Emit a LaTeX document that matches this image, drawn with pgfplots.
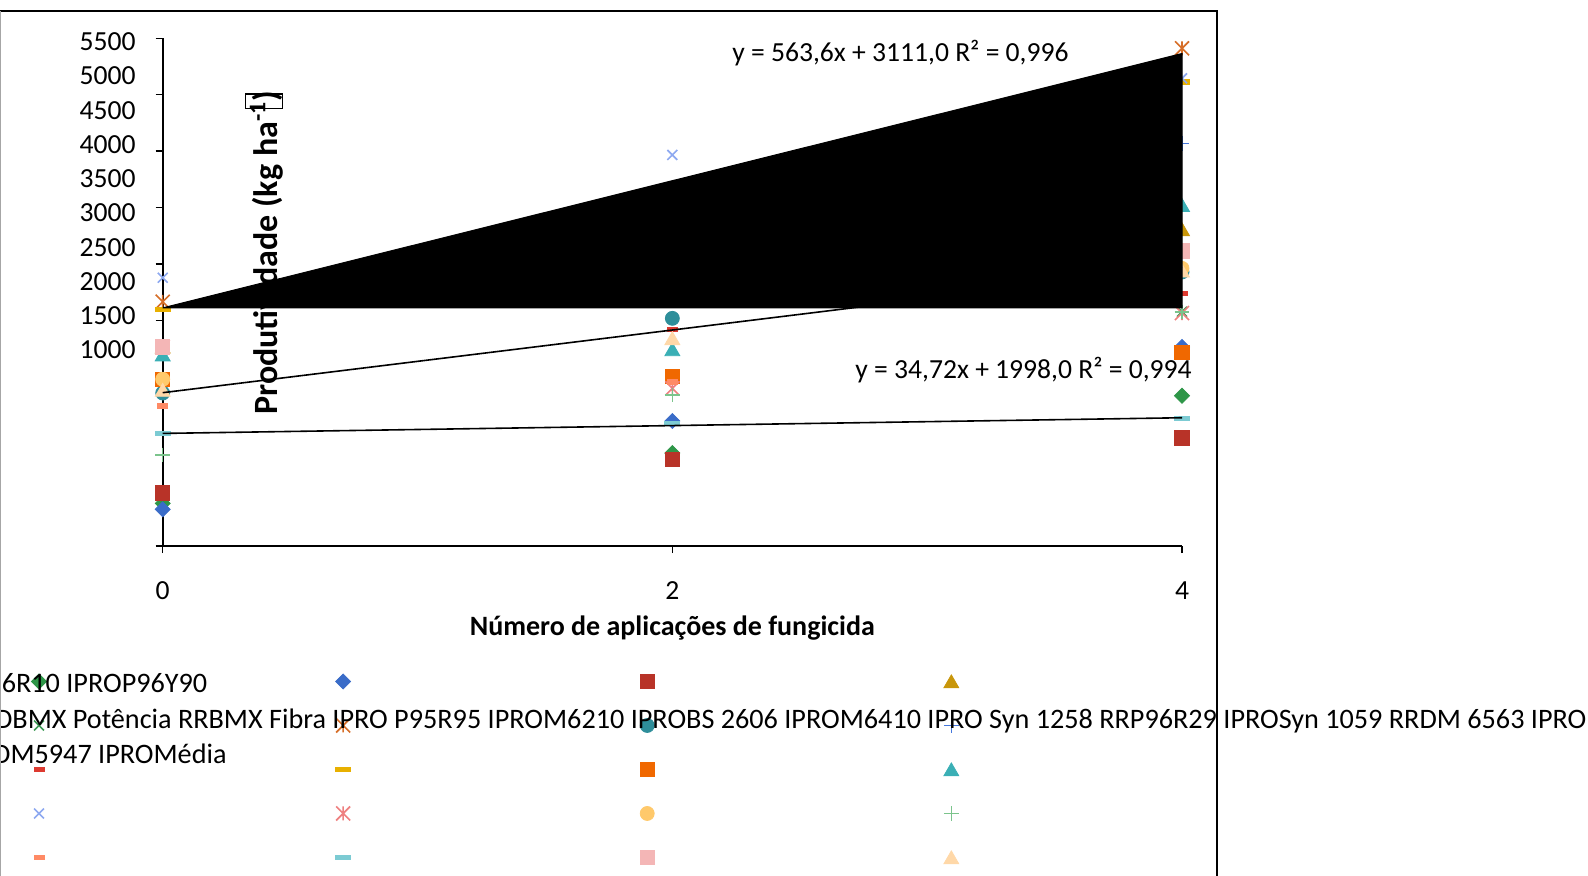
\documentclass[border=0pt]{standalone}
\usepackage{fontspec}
\setmainfont{Carlito}
\usepackage{pgfplots}
\usepackage{pgfplotstable}
\pgfplotsset{compat=1.18}

% series colours
\definecolor{c1}{RGB}{46,150,72}
\definecolor{c2}{RGB}{58,108,200}
\definecolor{c3}{RGB}{184,51,40}
\definecolor{c4}{RGB}{200,150,10}
\definecolor{c5}{RGB}{62,154,86}
\definecolor{c6}{RGB}{214,110,40}
\definecolor{c7}{RGB}{46,142,154}
\definecolor{c8}{RGB}{68,119,221}
\definecolor{c9}{RGB}{221,58,48}
\definecolor{c10}{RGB}{232,176,0}
\definecolor{c11}{RGB}{240,104,0}
\definecolor{c12}{RGB}{58,175,181}
\definecolor{c13}{RGB}{142,169,240}
\definecolor{c14}{RGB}{238,128,128}
\definecolor{c15}{RGB}{255,201,107}
\definecolor{c16}{RGB}{123,196,140}
\definecolor{c17}{RGB}{255,138,101}
\definecolor{c18}{RGB}{124,203,211}
\definecolor{c19}{RGB}{244,182,182}
\definecolor{c20}{RGB}{255,216,168}

% cross with a vertical bar (star marker)
\pgfdeclareplotmark{xstar}{%
  \pgfpathmoveto{\pgfqpoint{-\pgfplotmarksize}{-\pgfplotmarksize}}%
  \pgfpathlineto{\pgfqpoint{\pgfplotmarksize}{\pgfplotmarksize}}%
  \pgfpathmoveto{\pgfqpoint{-\pgfplotmarksize}{\pgfplotmarksize}}%
  \pgfpathlineto{\pgfqpoint{\pgfplotmarksize}{-\pgfplotmarksize}}%
  \pgfpathmoveto{\pgfqpoint{0pt}{-\pgfplotmarksize}}%
  \pgfpathlineto{\pgfqpoint{0pt}{\pgfplotmarksize}}%
  \pgfusepathqstroke
}

\pgfplotsset{
  mdiamond/.style={mark=square*, mark size=2.65pt, mark options={rotate=45}},
  msquare/.style={mark=square*, mark size=3.6pt},
  mtri/.style={mark=triangle*, mark size=4.3pt, mark options={yshift=-1pt}},
  mx/.style={mark=x, mark size=3.5pt, mark options={line width=0.8pt}},
  mstar/.style={mark=xstar, mark size=3.5pt, mark options={line width=0.8pt}},
  mcirc/.style={mark=*, mark size=3.5pt},
  mplus/.style={mark=+, mark size=3.7pt, mark options={line width=0.8pt}},
  mrect/.style={mark=square*, mark size=2.5pt, mark options={yscale=0.47}},
  mdash/.style={mark=square*, mark size=3.75pt, mark options={yscale=0.31}},
}

% yield (kg/ha) by number of fungicide applications
\pgfplotstableread{
x s1 s2 s3 s4 s5 s6 s7 s8 s9 s10 s11 s12 s13 s14 s15 s16 s17 s18 s19 s20
0 1378 1325 1472 2766 2478 3165 2356 2766 2478 3098 2478 2697 3378 2766 2478 1807 2241 1999 2766 2383
2 1824 2108 1768 3624 3713 4100 3018 3800 2921 4000 2501 2743 4466 2398 3500 2338 2456 2088 3400 2841
4 2332 2764 1960 3807 3077 5411 3429 4569 3240 5115 2717 4022 5145 3065 3461 3074 3617 2132 3617 3440
}\prod

\newcommand{\series}[3]{%
  \addplot[only marks, color=#2, #3] table[x=x, y=#1]{\prod};
  \addlegendentry{\relax}}

\begin{document}
\begin{tikzpicture}
\begin{axis}[
  at={(0pt,0pt)}, anchor=south west,
  scale only axis, width=509.65pt, height=253.85pt,
  xmin=0, xmax=4, ymin=1000, ymax=5500,
  axis x line*=bottom, axis y line*=left,
  axis line style={black, line width=0.9pt},
  xtick={0,2,4},
  ytick={1000,1500,...,5500},
  yticklabels={{},{},{},{},{},{},{},{},{},{}},
  extra y ticks={5470,5166.5,4863,4559.5,4256,3952.5,3649,3345.5,3042,2738.5},
  extra y tick labels={5500,5000,4500,4000,3500,3000,2500,2000,1500,1000},
  extra y tick style={major tick length=0pt,
    yticklabel style={anchor=east, inner sep=0pt, xshift=-13.35pt}},
  tick align=outside, major tick length=3.5pt,
  tick style={black, line width=0.7pt},
  tick label style={font=\fontsize{13.8}{16}\selectfont},
  /pgf/number format/assume math mode=true,
  xticklabel style={anchor=base, inner sep=0pt, yshift=-23.25pt},
  xlabel={Número de aplicações de fungicida},
  xlabel style={at={(axis description cs:0.5,-0.1763)}, anchor=base,
    inner sep=0pt, font=\bfseries\fontsize{14}{17}\selectfont},
  ylabel={Produtividade (kg ha\textsuperscript{-1})},
  ylabel style={at={(axis description cs:0.1131,0.258)}, anchor=base west,
    inner sep=0pt, font=\bfseries\fontsize{17}{20}\selectfont},
  clip=false,
  clip marker paths=true,
  legend columns=4,
  legend style={at={(axis description cs:-0.2695,-0.2235)}, anchor=north west,
    draw=none, fill=none, inner sep=0pt, outer sep=0pt, row sep=0pt,
    nodes={inner sep=0pt, outer sep=0pt}},
  legend image code/.code={%
    \pgfpathrectangle{\pgfpoint{-75.525pt}{-11pt}}{\pgfpoint{151.05pt}{22pt}}%
    \pgfusepath{}%
    \draw[#1] plot coordinates {(0pt,0pt)};},
]
\series{s1}{c1}{mdiamond}
\series{s2}{c2}{mdiamond}
\series{s3}{c3}{msquare}
\series{s4}{c4}{mtri}
\series{s5}{c5}{mx}
\series{s6}{c6}{mstar}
\series{s7}{c7}{mcirc}
\series{s8}{c8}{mplus}
\series{s9}{c9}{mrect}
\series{s10}{c10}{mdash}
\series{s11}{c11}{msquare}
\series{s12}{c12}{mtri}
\series{s13}{c13}{mx}
\series{s14}{c14}{mstar}
\series{s15}{c15}{mcirc}
\series{s16}{c16}{mplus}
\series{s17}{c17}{mrect}
\series{s18}{c18}{mdash}
\series{s19}{c19}{msquare}
\series{s20}{c20}{mtri}

% linear trends
\addplot[forget plot, black, line width=0.8pt] coordinates {(0,2359) (4,3470)};
\addplot[forget plot, black, line width=0.8pt] coordinates {(0,1998) (4,2136.9)};
\addplot[forget plot, fill=black, draw=black, line width=0.5pt]
  coordinates {(0,3111) (4,5365.4) (4,3111) (0,3111)};

\node[anchor=base west, inner sep=0pt, font=\fontsize{13.8}{16}\selectfont]
  at (axis cs:2.234,5291.7) {y = 563,6x + 3111,0 R² = 0,996};
\node[anchor=base west, inner sep=0pt, font=\fontsize{13.8}{16}\selectfont]
  at (axis cs:2.717,2486.4) {y = 34,72x + 1998,0 R² = 0,994};
\end{axis}

% missing-glyph box at the end of the y label
\draw[black, line width=0.6pt] (41.5pt,218.65pt) rectangle (60pt,226pt);

% legend text
\begin{scope}[every node/.style={inner sep=0pt, font=\fontsize{14.1}{16}\selectfont}]
\node[anchor=base east] at (22.45pt,-73.35pt) {6R10 IPROP96Y90};
\node[anchor=base west] at (-84pt,-91.15pt) {DBMX Potência RRBMX Fibra IPRO P95R95 IPROM6210 IPROBS 2606 IPROM6410 IPRO Syn 1258 RRP96R29 IPROSyn 1059 RRDM 6563 IPRO};
\node[anchor=base east] at (32.1pt,-108.65pt) {DM5947 IPROMédia};
\end{scope}

% chart frame
\draw[black, line width=1.15pt] (-81.35pt,267.4pt) -- (527pt,267.4pt) -- (527pt,-170pt);
\draw[gray!70, line width=0.5pt] (-80.85pt,267.4pt) -- (-80.85pt,-170pt);

\pgfresetboundingbox
\path[use as bounding box] (-81.35pt,-164.5pt) rectangle (712.65pt,273pt);
\end{tikzpicture}
\end{document}
